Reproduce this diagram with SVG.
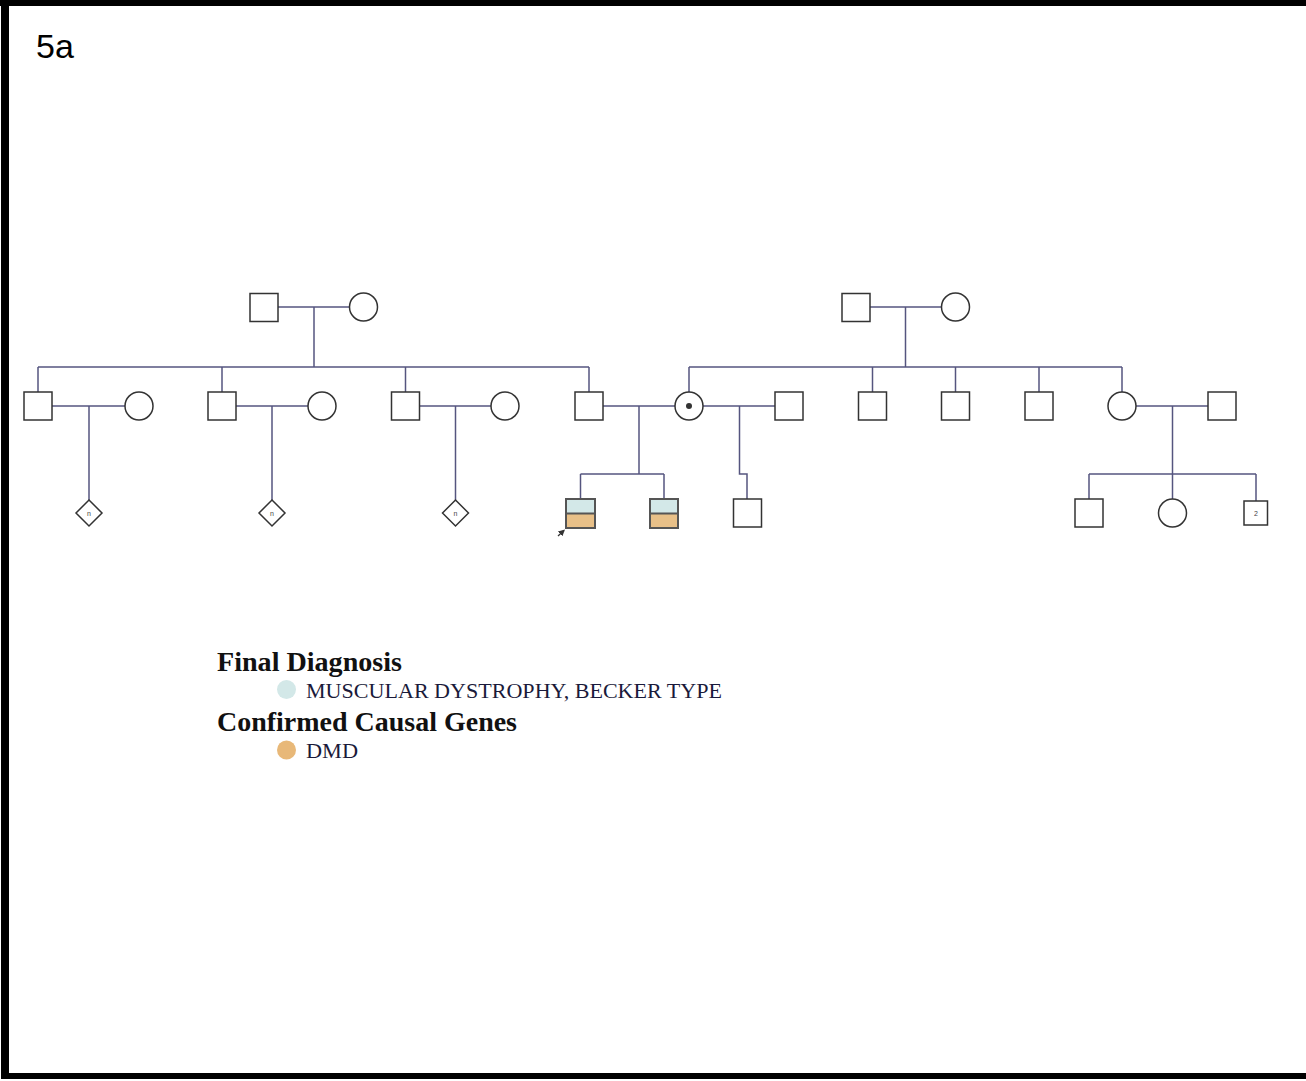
<svg xmlns="http://www.w3.org/2000/svg" width="1306" height="1081" viewBox="0 0 1306 1081">
<style>
.ln{fill:none;stroke:#55557f;stroke-width:1.5}
.nd{fill:#fff;stroke:#333;stroke-width:1.5}
.aff{stroke:#555;stroke-width:2}
.tiny{font-family:"Liberation Sans",Arial,sans-serif;font-size:7px;fill:#444;text-anchor:middle}
.lh{font-family:"Liberation Serif","Times New Roman",serif;font-weight:bold;font-size:27px;fill:#111}
.li{font-family:"Liberation Serif","Times New Roman",serif;font-size:21px;fill:#1a1a3a}
</style>
<defs>
<marker id="arr" viewBox="0 0 10 10" refX="8" refY="5" markerWidth="5" markerHeight="5" orient="auto">
<path d="M0,0 L10,5 L0,10 z" fill="#333"/>
</marker>
</defs>
<rect x="0" y="0" width="1306" height="1081" fill="#fff"/>
<g id="frame" fill="#000">
<rect x="0" y="0" width="1306" height="6"/>
<rect x="1" y="0" width="8" height="1079"/>
<rect x="1" y="1073" width="1305" height="6"/>
</g>
<text x="36" y="58" font-family="Liberation Sans,Arial,sans-serif" font-size="34" fill="#000">5a</text>

<g id="connectors" class="ln">
<path d="M278,307 H349"/>
<path d="M314,307 V367"/>
<path d="M38,367 H589"/>
<path d="M38,367 V392"/>
<path d="M222,367 V392"/>
<path d="M405.5,367 V392"/>
<path d="M589,367 V392"/>
<path d="M52,406 H125"/>
<path d="M89,406 V500"/>
<path d="M236,406 H308"/>
<path d="M272,406 V500"/>
<path d="M419.5,406 H491"/>
<path d="M455.5,406 V500"/>
<path d="M603,406 H675"/>
<path d="M639,406 V474"/>
<path d="M580.5,474 H664"/>
<path d="M580.5,474 V499"/>
<path d="M664,474 V499"/>
<path d="M703,406 H775"/>
<path d="M739.5,406 V474 H747 V499"/>
<path d="M869.5,307 H941"/>
<path d="M905.5,307 V367"/>
<path d="M689,367 H1122"/>
<path d="M689,367 V392"/>
<path d="M872.5,367 V392"/>
<path d="M955.5,367 V392"/>
<path d="M1039,367 V392"/>
<path d="M1122,367 V392"/>
<path d="M1136,406 H1208"/>
<path d="M1172.5,406 V474"/>
<path d="M1089,474 H1256"/>
<path d="M1089,474 V499"/>
<path d="M1172.5,474 V499"/>
<path d="M1256,474 V501"/>
</g>

<g id="gp-left-m"><rect class="nd" x="250" y="293.5" width="28" height="28"/></g>
<g id="gp-left-f"><circle class="nd" cx="363.5" cy="307" r="14"/></g>
<g id="gp-right-m"><rect class="nd" x="842" y="293.5" width="28" height="28"/></g>
<g id="gp-right-f"><circle class="nd" cx="955.5" cy="307" r="14"/></g>

<g id="g2-m1"><rect class="nd" x="24" y="392" width="28" height="28"/></g>
<g id="g2-f1"><circle class="nd" cx="139" cy="406" r="14"/></g>
<g id="g2-m2"><rect class="nd" x="208" y="392" width="28" height="28"/></g>
<g id="g2-f2"><circle class="nd" cx="322" cy="406" r="14"/></g>
<g id="g2-m3"><rect class="nd" x="391.5" y="392" width="28" height="28"/></g>
<g id="g2-f3"><circle class="nd" cx="505" cy="406" r="14"/></g>
<g id="g2-m4"><rect class="nd" x="575" y="392" width="28" height="28"/></g>
<g id="g2-carrier"><circle class="nd" cx="689" cy="406" r="14"/><circle cx="689" cy="406" r="3" fill="#333"/></g>
<g id="g2-m5"><rect class="nd" x="775" y="392" width="28" height="28"/></g>
<g id="g2-m6"><rect class="nd" x="858.5" y="392" width="28" height="28"/></g>
<g id="g2-m7"><rect class="nd" x="941.5" y="392" width="28" height="28"/></g>
<g id="g2-m8"><rect class="nd" x="1025" y="392" width="28" height="28"/></g>
<g id="g2-f4"><circle class="nd" cx="1122" cy="406" r="14"/></g>
<g id="g2-m9"><rect class="nd" x="1208" y="392" width="28" height="28"/></g>

<g id="g3-d1"><path class="nd" d="M89,500 L102,513 L89,526 L76,513 Z"/><text class="tiny" x="89" y="515.5">n</text></g>
<g id="g3-d2"><path class="nd" d="M272,500 L285,513 L272,526 L259,513 Z"/><text class="tiny" x="272" y="515.5">n</text></g>
<g id="g3-d3"><path class="nd" d="M455.5,500 L468.5,513 L455.5,526 L442.5,513 Z"/><text class="tiny" x="455.5" y="515.5">n</text></g>
<g id="g3-proband">
<rect x="566" y="499" width="29" height="14.5" fill="#d3e8e8"/>
<rect x="566" y="513.5" width="29" height="14.5" fill="#e8c088"/>
<path class="aff" d="M566,513.5 H595" fill="none"/>
<rect class="aff" x="566" y="499" width="29" height="29" fill="none"/>
<path d="M558,536 L564,530.5" stroke="#333" stroke-width="1.3" fill="none" marker-end="url(#arr)"/>
</g>
<g id="g3-sib">
<rect x="650" y="499" width="28" height="14.5" fill="#d3e8e8"/>
<rect x="650" y="513.5" width="28" height="14.5" fill="#e8c088"/>
<path class="aff" d="M650,513.5 H678" fill="none"/>
<rect class="aff" x="650" y="499" width="28" height="29" fill="none"/>
</g>
<g id="g3-half"><rect class="nd" x="733.5" y="499" width="28" height="28"/></g>
<g id="g3-m1"><rect class="nd" x="1075" y="499" width="28" height="28"/></g>
<g id="g3-f1"><circle class="nd" cx="1172.5" cy="513" r="14"/></g>
<g id="g3-m2"><rect class="nd" x="1244" y="501" width="23.5" height="24"/><text class="tiny" x="1256" y="515.5">2</text></g>

<g id="legend">
<text class="lh" x="217" y="671" textLength="185" lengthAdjust="spacingAndGlyphs">Final Diagnosis</text>
<circle cx="286.5" cy="689.5" r="9.5" fill="#d3e8e8"/>
<text class="li" x="306" y="698" textLength="416" lengthAdjust="spacingAndGlyphs">MUSCULAR DYSTROPHY, BECKER TYPE</text>
<text class="lh" x="217" y="731" textLength="300" lengthAdjust="spacingAndGlyphs">Confirmed Causal Genes</text>
<circle cx="286.5" cy="750" r="9.5" fill="#e8b878"/>
<text class="li" x="306" y="758" textLength="52" lengthAdjust="spacingAndGlyphs">DMD</text>
</g>
</svg>
